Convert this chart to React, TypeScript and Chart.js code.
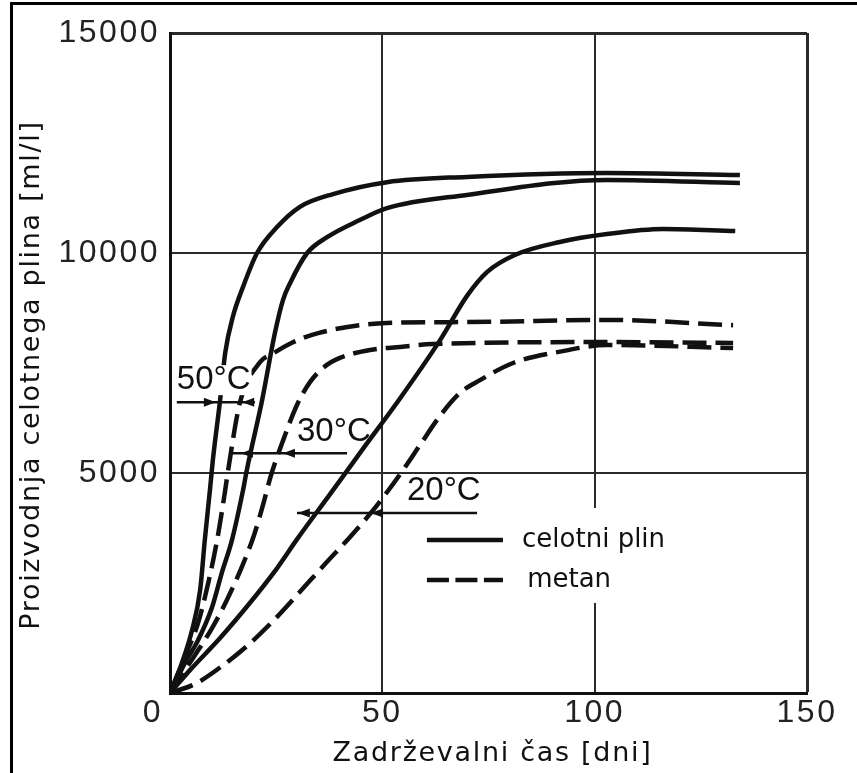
import React, { useEffect, useRef } from 'react';
import { Chart, registerables } from 'chart.js';

Chart.register(...registerables);

// ---------- data (days, ml/l) ----------
const total50Days = [0, 2.8, 5.2, 7.1, 8.2, 9.4, 10.1, 11.8, 13.0, 14.8, 17.2, 20.5, 25.2, 30.6, 38.4, 51.1, 69.9, 102.9, 134.2];
const total50Gas = [0, 680, 1430, 2340, 3480, 4610, 5300, 6660, 7730, 8550, 9230, 10000, 10590, 11050, 11340, 11610, 11730, 11820, 11770];

const total30Days = [0, 3.5, 6.6, 9.9, 12.2, 14.6, 17.2, 18.1, 21.7, 24.7, 26.6, 28.3, 32.3, 37.0, 44.7, 51.1, 69.9, 102.9, 134.2];
const total30Gas = [0, 680, 1200, 1950, 2730, 3480, 4610, 5070, 6660, 8180, 8930, 9320, 10000, 10360, 10750, 11020, 11320, 11660, 11590];

const total20Days = [0, 4.7, 11.8, 18.8, 24.7, 30.1, 37.7, 45.9, 54.2, 63.6, 69.9, 74.7, 81.2, 91.8, 102.9, 116.1, 133.1];
const total20Gas = [0, 520, 1250, 2045, 2770, 3520, 4520, 5610, 6700, 8020, 9020, 9570, 9955, 10250, 10430, 10545, 10500];

const methane50Days = [0, 3.5, 6.6, 9.0, 11.1, 13.0, 13.7, 16.5, 21.2, 24.0, 28.7, 34.9, 51.1, 69.9, 102.9, 132.6];
const methane50Gas = [0, 820, 1590, 2500, 3480, 4610, 5070, 6610, 7520, 7700, 7960, 8180, 8410, 8430, 8480, 8360];

const methane30Days = [0, 1.9, 5.9, 9.9, 13.4, 17.0, 19.8, 21.9, 23.8, 26.4, 29.9, 33.0, 36.3, 40.0, 47.1, 54.2, 61.9, 102.9, 132.6];
const methane30Gas = [0, 295, 865, 1475, 2115, 2885, 3590, 4275, 4955, 5680, 6545, 7070, 7410, 7615, 7795, 7865, 7930, 7975, 7955];

const methane20Days = [0, 5.9, 11.3, 18.4, 24.7, 30.6, 36.5, 42.4, 47.1, 50.6, 54.9, 58.9, 63.6, 68.3, 73.0, 80.8, 92.5, 102.9, 132.6];
const methane20Gas = [0, 205, 545, 1090, 1680, 2300, 2930, 3545, 4070, 4500, 5070, 5640, 6300, 6820, 7110, 7500, 7770, 7910, 7840];

const seriesNames = ['celotni plin', 'metan'];
const xTitle = 'Zadrževalni čas [dni]';
const yTitle = 'Proizvodnja celotnega plina [ml/l]';

// temperature labels (positions in data units)
const tempLabels = [
  { text: '50°C', x: 1.6, y: 7110, lineY: 6610, x0: 1.6, x1: 20.0, arrows: [{ x: 10.8, dir: 1 }, { x: 17.0, dir: -1 }], clear: true },
  { text: '30°C', x: 29.9, y: 5930, lineY: 5450, x0: 14.6, x1: 41.7, arrows: [{ x: 16.7, dir: -1 }, { x: 26.6, dir: -1 }], clear: false },
  { text: '20°C', x: 55.8, y: 4590, lineY: 4090, x0: 29.9, x1: 72.3, arrows: [{ x: 30.1, dir: -1 }, { x: 47.3, dir: -1 }], clear: false },
];

// legend placement (data units)
const legendBox = { x0: 58.9, x1: 124.8, yTop: 4205, yBottom: 2045 };
const legendRows = [
  { name: seriesNames[0], y: 3477, sx0: 60.5, sx1: 78.4, tx: 82.9, dash: [] as number[] },
  { name: seriesNames[1], y: 2568, sx0: 60.5, sx1: 78.4, tx: 84.1, dash: [22, 6.5] },
];

const INK = '#111';

function pts(days: number[], vals: number[]) {
  return days.map((d, i) => ({ x: d, y: vals[i] }));
}

const textSpacingPlugin = {
  id: 'textSpacing',
  beforeDraw(chart: any) {
    for (const id of Object.keys(chart.scales)) {
      const s: any = chart.scales[id];
      if (s.__spaced) continue;
      s.__spaced = true;
      const origTitle = s.drawTitle;
      const origLabels = s.drawLabels;
      const shift = id === 'y' ? [0, 12] : [4, 0];
      s.drawTitle = function (...args: any[]) {
        const c = chart.ctx;
        c.save();
        c.letterSpacing = '1.7px';
        c.translate(shift[0], shift[1]);
        origTitle.apply(this, args);
        c.restore();
      };
      s.drawLabels = function (...args: any[]) {
        const c = chart.ctx;
        c.save();
        c.letterSpacing = '2.5px';
        origLabels.apply(this, args);
        c.restore();
      };
    }
  },
};

const overlayPlugin = {
  id: 'overlay',
  afterDatasetsDraw(chart: any) {
    const { ctx, scales } = chart;
    const px = (v: number) => scales.x.getPixelForValue(v);
    const py = (v: number) => scales.y.getPixelForValue(v);
    ctx.save();

    // legend backdrop (covers the grid line behind it)
    const bx0 = px(legendBox.x0);
    const bx1 = px(legendBox.x1);
    const by0 = py(legendBox.yTop);
    const by1 = py(legendBox.yBottom);
    ctx.fillStyle = '#fff';
    ctx.fillRect(bx0, by0, bx1 - bx0, by1 - by0);

    // temperature annotations
    ctx.font = "33px 'Liberation Sans', Arial, sans-serif";
    ctx.textBaseline = 'middle';
    ctx.textAlign = 'left';
    for (const t of tempLabels) {
      const tx = px(t.x);
      const ty = py(t.y);
      const w = ctx.measureText(t.text).width;
      if (t.clear) {
        ctx.fillStyle = '#fff';
        ctx.fillRect(tx - 1, ty - 15, w + 2, 30);
      }
      ctx.fillStyle = INK;
      ctx.fillText(t.text, tx, ty);
      const ly = py(t.lineY);
      ctx.strokeStyle = INK;
      ctx.lineWidth = 2.5;
      ctx.setLineDash([]);
      ctx.beginPath();
      ctx.moveTo(px(t.x0), ly);
      ctx.lineTo(px(t.x1), ly);
      ctx.stroke();
      for (const a of t.arrows) {
        const ax = px(a.x);
        ctx.beginPath();
        ctx.moveTo(ax, ly);
        ctx.lineTo(ax - a.dir * 12, ly - 4.5);
        ctx.lineTo(ax - a.dir * 12, ly + 4.5);
        ctx.closePath();
        ctx.fill();
      }
    }

    // legend entries
    ctx.font = "26px 'DejaVu Sans', sans-serif";
    for (const r of legendRows) {
      const y = py(r.y);
      ctx.strokeStyle = INK;
      ctx.lineWidth = 4.5;
      ctx.setLineDash(r.dash);
      ctx.beginPath();
      ctx.moveTo(px(r.sx0), y);
      ctx.lineTo(px(r.sx1), y);
      ctx.stroke();
      ctx.setLineDash([]);
      ctx.fillStyle = INK;
      ctx.fillText(r.name, px(r.tx), y);
    }
    ctx.restore();
  },
};

export default function App() {
  const canvasRef = useRef<HTMLCanvasElement | null>(null);

  useEffect(() => {
    if (!canvasRef.current) return;
    const lineStyle = {
      borderColor: INK,
      borderWidth: 4.5,
      pointRadius: 0,
      pointHoverRadius: 0,
      fill: false,
      cubicInterpolationMode: 'monotone' as const,
      borderCapStyle: 'butt' as const,
    };
    const dashed = { ...lineStyle, borderDash: [24, 9] };
    const tickFont = { family: "'Liberation Sans', Arial, sans-serif", size: 32, lineHeight: 1 };
    const titleFont = { family: "'DejaVu Sans', sans-serif", size: 27, lineHeight: 1.2 };

    const chart = new Chart(canvasRef.current, {
      type: 'line',
      data: {
        datasets: [
          { label: seriesNames[0] + ' 50°C', data: pts(total50Days, total50Gas), ...lineStyle },
          { label: seriesNames[0] + ' 30°C', data: pts(total30Days, total30Gas), ...lineStyle },
          { label: seriesNames[0] + ' 20°C', data: pts(total20Days, total20Gas), ...lineStyle },
          { label: seriesNames[1] + ' 50°C', data: pts(methane50Days, methane50Gas), ...dashed },
          { label: seriesNames[1] + ' 30°C', data: pts(methane30Days, methane30Gas), ...dashed },
          { label: seriesNames[1] + ' 20°C', data: pts(methane20Days, methane20Gas), ...dashed },
        ],
      },
      options: {
        responsive: false,
        animation: false,
        devicePixelRatio: 1,
        layout: { padding: { top: 33, right: 50, left: 0, bottom: 0 } },
        plugins: { legend: { display: false }, tooltip: { enabled: false } },
        events: [],
        scales: {
          x: {
            type: 'linear',
            min: 0,
            max: 150,
            afterFit: (s: any) => { s.height = 80; },
            ticks: {
              stepSize: 50,
              autoSkip: false,
              maxRotation: 0,
              minRotation: 0,
              padding: 4,
              color: '#222',
              font: tickFont,
              callback: (v: any) => (v === 0 ? '0   ' : String(v)),
            },
            grid: {
              color: '#2a2a2a',
              lineWidth: (c: any) => (c.tick && c.tick.value === 150 ? 3 : 2),
              drawTicks: false,
            },
            border: { display: true, color: INK, width: 3 },
            title: { display: true, text: xTitle, color: INK, font: titleFont, padding: { top: 0, bottom: 3 } },
          },
          y: {
            type: 'linear',
            min: 0,
            max: 15000,
            afterFit: (s: any) => { s.width = 170; },
            ticks: {
              stepSize: 5000,
              padding: 10,
              color: '#222',
              font: tickFont,
              callback: (v: any) => (v === 0 ? '' : String(v)),
            },
            grid: {
              color: '#2a2a2a',
              lineWidth: (c: any) => (c.tick && c.tick.value === 15000 ? 3 : 2),
              drawTicks: false,
            },
            border: { display: true, color: INK, width: 3 },
            title: { display: true, text: yTitle, color: INK, font: titleFont, padding: { top: 16, bottom: 0 } },
          },
        },
      },
      plugins: [textSpacingPlugin, overlayPlugin],
    } as any);

    return () => chart.destroy();
  }, []);

  return (
    <div style={{ position: 'absolute', left: 0, top: 0, width: 857, height: 773, background: '#fff', overflow: 'hidden' }}>
      <canvas ref={canvasRef} width={857} height={773} style={{ display: 'block' }} />
      <div
        style={{
          position: 'absolute',
          left: 10,
          top: 2,
          width: 900,
          height: 900,
          borderLeft: '3px solid #000',
          borderTop: '3px solid #000',
          pointerEvents: 'none',
        }}
      />
    </div>
  );
}
